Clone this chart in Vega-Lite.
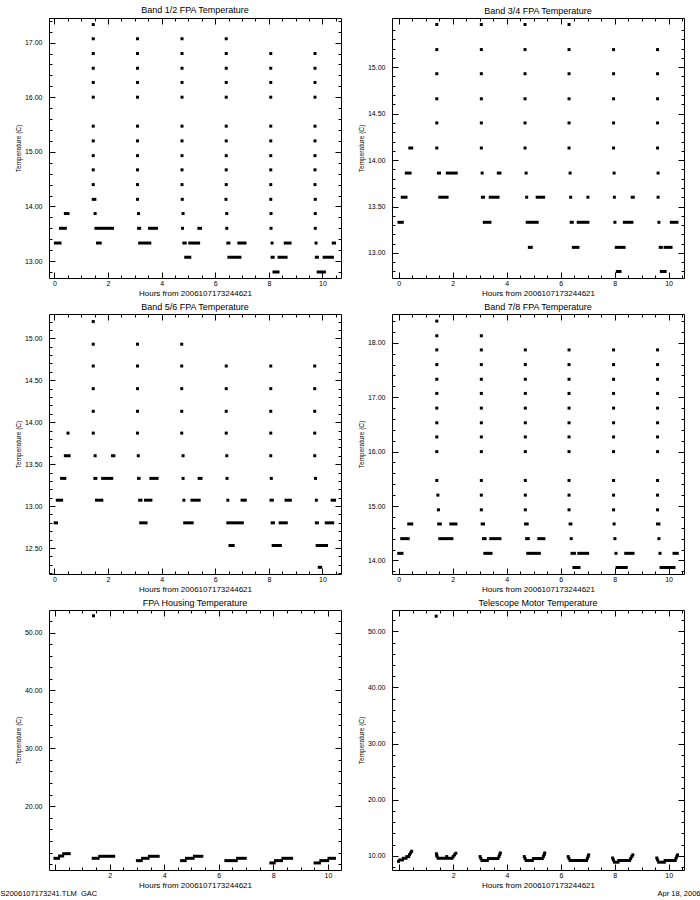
{
"$schema": "https://vega.github.io/schema/vega-lite/v6.json",
"padding": {"left": 0, "top": 5, "right": 0, "bottom": 0},
"background": "white",
"config": {
  "view": {"stroke": null},
  "font": "Liberation Sans",
  "axis": {"grid": false, "domainColor": "black", "domainWidth": 1, "tickColor": "black", "tickWidth": 1, "labelColor": "black", "titleColor": "black", "labelFont": "Liberation Sans", "titleFont": "Liberation Sans", "labelFontSize": 7, "titleFontWeight": "normal", "labelFlush": false, "labelOverlap": false, "labelBound": false},
  "axisBottom": {"labelPadding": 7, "titleFontSize": 8, "titlePadding": 0},
  "axisLeft": {"labelPadding": 13, "titleFontSize": 6.5, "titlePadding": 3},
  "title": {"font": "Liberation Sans", "fontSize": 9, "fontWeight": "normal", "color": "black", "offset": 2, "anchor": "middle", "frame": "group"}
},
"datasets": {
"b12": [
{"x":0.04,"x2":0.21,"y":13.33},{"x":1.61,"x2":1.71,"y":13.33},{"x":3.18,"x2":3.56,"y":13.33},{"x":4.83,"x2":4.88,"y":13.33},{"x":5.05,"x2":5.38,"y":13.33},{"x":6.47,"x2":6.51,"y":13.33},{"x":6.88,"x2":7.11,"y":13.33},{"x":8.61,"x2":8.79,"y":13.33},{"x":10.4,"x2":10.45,"y":13.33},
{"x":8.12,"y":13.33},{"x":9.76,"y":13.33},
{"x":4.9,"x2":5.05,"y":13.07},{"x":6.51,"x2":6.92,"y":13.07},{"x":8.12,"x2":8.16,"y":13.07},{"x":8.38,"x2":8.64,"y":13.07},{"x":9.77,"x2":9.81,"y":13.07},{"x":10.06,"x2":10.37,"y":13.07},
{"x":8.19,"x2":8.34,"y":12.8},{"x":9.84,"x2":10.07,"y":12.8},
{"x":0.23,"x2":0.41,"y":13.6},{"x":1.55,"x2":2.17,"y":13.6},{"x":3.14,"x2":3.18,"y":13.6},{"x":3.55,"x2":3.81,"y":13.6},{"x":5.39,"x2":5.45,"y":13.6},
{"x":4.78,"y":13.6},{"x":6.43,"y":13.6},{"x":8.08,"y":13.6},{"x":9.73,"y":13.6},
{"x":0.41,"x2":0.51,"y":13.87},
{"x":1.52,"y":13.87},{"x":3.14,"y":13.87},{"x":4.8,"y":13.87},{"x":6.43,"y":13.87},{"x":8.08,"y":13.87},{"x":9.73,"y":13.87},
{"x":1.45,"x2":1.51,"y":14.13},
{"x":3.1,"y":14.13},{"x":4.77,"y":14.13},{"x":6.4,"y":14.13},{"x":8.07,"y":14.13},{"x":9.73,"y":14.13},
{"x":1.45,"y":14.4},{"x":3.1,"y":14.4},{"x":4.76,"y":14.4},{"x":6.41,"y":14.4},{"x":8.07,"y":14.4},{"x":9.72,"y":14.4},
{"x":1.45,"y":14.67},{"x":3.1,"y":14.67},{"x":4.76,"y":14.67},{"x":6.41,"y":14.67},{"x":8.07,"y":14.67},{"x":9.72,"y":14.67},
{"x":1.45,"y":14.93},{"x":3.1,"y":14.93},{"x":4.76,"y":14.93},{"x":6.41,"y":14.93},{"x":8.07,"y":14.93},{"x":9.72,"y":14.93},
{"x":1.45,"y":15.2},{"x":3.1,"y":15.2},{"x":4.76,"y":15.2},{"x":6.41,"y":15.2},{"x":8.07,"y":15.2},{"x":9.72,"y":15.2},
{"x":1.45,"y":15.47},{"x":3.1,"y":15.47},{"x":4.76,"y":15.47},{"x":6.41,"y":15.47},{"x":8.07,"y":15.47},{"x":9.72,"y":15.47},
{"x":1.45,"y":16.0},{"x":3.1,"y":16.0},{"x":4.76,"y":16.0},{"x":6.41,"y":16.0},{"x":8.07,"y":16.0},{"x":9.72,"y":16.0},
{"x":1.45,"y":16.27},{"x":3.1,"y":16.27},{"x":4.76,"y":16.27},{"x":6.41,"y":16.27},{"x":8.07,"y":16.27},{"x":9.72,"y":16.27},
{"x":1.45,"y":16.53},{"x":3.1,"y":16.53},{"x":4.76,"y":16.53},{"x":6.41,"y":16.53},{"x":8.07,"y":16.53},{"x":9.72,"y":16.53},
{"x":1.45,"y":16.8},{"x":3.1,"y":16.8},{"x":4.76,"y":16.8},{"x":6.41,"y":16.8},{"x":8.07,"y":16.8},{"x":9.72,"y":16.8},
{"x":1.45,"y":17.07},{"x":3.1,"y":17.07},{"x":4.76,"y":17.07},{"x":6.41,"y":17.07},
{"x":1.45,"y":17.33}
],
"b34": [
{"x":0.28,"x2":0.42,"y":13.86},{"x":1.47,"x2":1.51,"y":13.86},{"x":1.8,"x2":2.13,"y":13.86},{"x":3.69,"x2":3.75,"y":13.86},
{"x":3.09,"y":13.86},{"x":4.72,"y":13.86},{"x":6.35,"y":13.86},{"x":7.98,"y":13.86},{"x":9.61,"y":13.86},
{"x":0.13,"x2":0.27,"y":13.6},{"x":1.52,"x2":1.79,"y":13.6},{"x":3.1,"x2":3.14,"y":13.6},{"x":3.39,"x2":3.68,"y":13.6},{"x":5.13,"x2":5.37,"y":13.6},{"x":8.65,"x2":8.69,"y":13.6},
{"x":4.74,"y":13.6},{"x":6.37,"y":13.6},{"x":7.01,"y":13.6},{"x":7.99,"y":13.6},{"x":9.61,"y":13.6},
{"x":0.01,"x2":0.13,"y":13.33},{"x":3.17,"x2":3.38,"y":13.33},{"x":4.76,"x2":5.13,"y":13.33},{"x":6.39,"x2":6.43,"y":13.33},{"x":6.65,"x2":7.01,"y":13.33},{"x":8.36,"x2":8.64,"y":13.33},{"x":10.1,"x2":10.31,"y":13.33},
{"x":8.01,"y":13.33},{"x":9.64,"y":13.33},
{"x":4.84,"x2":4.91,"y":13.06},{"x":6.47,"x2":6.64,"y":13.06},{"x":8.06,"x2":8.35,"y":13.06},{"x":9.69,"x2":9.73,"y":13.06},{"x":9.87,"x2":10.09,"y":13.06},
{"x":8.1,"x2":8.2,"y":12.8},{"x":9.73,"x2":9.87,"y":12.8},
{"x":0.41,"x2":0.48,"y":14.13},
{"x":1.41,"y":14.13},{"x":3.06,"y":14.13},{"x":4.68,"y":14.13},{"x":6.31,"y":14.13},{"x":7.96,"y":14.13},{"x":9.59,"y":14.13},
{"x":1.41,"y":14.4},{"x":3.06,"y":14.4},{"x":4.68,"y":14.4},{"x":6.31,"y":14.4},{"x":7.96,"y":14.4},{"x":9.59,"y":14.4},
{"x":1.41,"y":14.66},{"x":3.06,"y":14.66},{"x":4.68,"y":14.66},{"x":6.31,"y":14.66},{"x":7.96,"y":14.66},{"x":9.59,"y":14.66},
{"x":1.41,"y":14.93},{"x":3.06,"y":14.93},{"x":4.68,"y":14.93},{"x":6.31,"y":14.93},{"x":7.96,"y":14.93},{"x":9.59,"y":14.93},
{"x":1.41,"y":15.19},{"x":3.06,"y":15.19},{"x":4.68,"y":15.19},{"x":6.31,"y":15.19},{"x":7.96,"y":15.19},{"x":9.59,"y":15.19},
{"x":1.41,"y":15.46},{"x":3.06,"y":15.46},{"x":4.68,"y":15.46},{"x":6.31,"y":15.46}
],
"b56": [
{"x":0.51,"y":13.87},{"x":1.45,"y":13.87},{"x":3.1,"y":13.87},{"x":4.75,"y":13.87},{"x":6.41,"y":13.87},{"x":8.07,"y":13.87},{"x":9.71,"y":13.87},
{"x":0.41,"x2":0.55,"y":13.6},{"x":2.17,"x2":2.22,"y":13.6},
{"x":1.52,"y":13.6},{"x":3.13,"y":13.6},{"x":4.8,"y":13.6},{"x":6.43,"y":13.6},{"x":8.07,"y":13.6},{"x":9.71,"y":13.6},
{"x":0.27,"x2":0.39,"y":13.33},{"x":1.51,"x2":1.55,"y":13.33},{"x":1.8,"x2":2.14,"y":13.33},{"x":3.14,"x2":3.16,"y":13.33},{"x":3.6,"x2":3.83,"y":13.33},{"x":5.4,"x2":5.47,"y":13.33},
{"x":4.8,"y":13.33},{"x":6.44,"y":13.33},{"x":8.09,"y":13.33},{"x":9.74,"y":13.33},
{"x":0.11,"x2":0.27,"y":13.07},{"x":1.57,"x2":1.77,"y":13.07},{"x":3.18,"x2":3.23,"y":13.07},{"x":3.4,"x2":3.6,"y":13.07},{"x":5.13,"x2":5.4,"y":13.07},{"x":7.0,"x2":7.12,"y":13.07},{"x":8.08,"x2":8.13,"y":13.07},{"x":8.64,"x2":8.8,"y":13.07},{"x":10.36,"x2":10.45,"y":13.07},
{"x":4.83,"y":13.07},{"x":6.47,"y":13.07},{"x":9.77,"y":13.07},
{"x":0.03,"x2":0.08,"y":12.8},{"x":3.22,"x2":3.42,"y":12.8},{"x":4.86,"x2":5.14,"y":12.8},{"x":6.47,"x2":7.01,"y":12.8},{"x":8.12,"x2":8.17,"y":12.8},{"x":8.42,"x2":8.65,"y":12.8},{"x":9.77,"x2":9.81,"y":12.8},{"x":10.14,"x2":10.38,"y":12.8},
{"x":6.55,"x2":6.67,"y":12.53},{"x":8.16,"x2":8.43,"y":12.53},{"x":9.8,"x2":10.15,"y":12.53},
{"x":9.88,"x2":9.93,"y":12.27},
{"x":1.45,"y":14.13},{"x":3.1,"y":14.13},{"x":4.75,"y":14.13},{"x":6.41,"y":14.13},{"x":8.07,"y":14.13},{"x":9.71,"y":14.13},
{"x":1.45,"y":14.4},{"x":3.1,"y":14.4},{"x":4.75,"y":14.4},{"x":6.41,"y":14.4},{"x":8.07,"y":14.4},{"x":9.71,"y":14.4},
{"x":1.45,"y":14.67},{"x":3.1,"y":14.67},{"x":4.75,"y":14.67},{"x":6.41,"y":14.67},{"x":8.07,"y":14.67},{"x":9.71,"y":14.67},
{"x":1.45,"y":14.93},{"x":3.1,"y":14.93},{"x":4.75,"y":14.93},
{"x":1.45,"y":15.2}
],
"b78": [
{"x":1.41,"y":18.4},
{"x":1.41,"y":18.13},{"x":3.06,"y":18.13},
{"x":1.41,"y":17.87},{"x":3.06,"y":17.87},{"x":4.69,"y":17.87},{"x":6.31,"y":17.87},{"x":7.96,"y":17.87},{"x":9.59,"y":17.87},
{"x":1.41,"y":17.6},{"x":3.06,"y":17.6},{"x":4.69,"y":17.6},{"x":6.31,"y":17.6},{"x":7.96,"y":17.6},{"x":9.59,"y":17.6},
{"x":1.41,"y":17.33},{"x":3.06,"y":17.33},{"x":4.69,"y":17.33},{"x":6.31,"y":17.33},{"x":7.96,"y":17.33},{"x":9.59,"y":17.33},
{"x":1.41,"y":17.07},{"x":3.06,"y":17.07},{"x":4.69,"y":17.07},{"x":6.31,"y":17.07},{"x":7.96,"y":17.07},{"x":9.59,"y":17.07},
{"x":1.41,"y":16.8},{"x":3.06,"y":16.8},{"x":4.69,"y":16.8},{"x":6.31,"y":16.8},{"x":7.96,"y":16.8},{"x":9.59,"y":16.8},
{"x":1.41,"y":16.53},{"x":3.06,"y":16.53},{"x":4.69,"y":16.53},{"x":6.31,"y":16.53},{"x":7.96,"y":16.53},{"x":9.59,"y":16.53},
{"x":1.41,"y":16.27},{"x":3.06,"y":16.27},{"x":4.69,"y":16.27},{"x":6.31,"y":16.27},{"x":7.96,"y":16.27},{"x":9.59,"y":16.27},
{"x":1.41,"y":16.0},{"x":3.06,"y":16.0},{"x":4.69,"y":16.0},{"x":6.31,"y":16.0},{"x":7.96,"y":16.0},{"x":9.59,"y":16.0},
{"x":1.41,"y":15.47},{"x":3.06,"y":15.47},{"x":4.69,"y":15.47},{"x":6.31,"y":15.47},{"x":7.96,"y":15.47},{"x":9.59,"y":15.47},
{"x":1.45,"y":15.2},{"x":3.06,"y":15.2},{"x":4.69,"y":15.2},{"x":6.31,"y":15.2},{"x":7.96,"y":15.2},{"x":9.59,"y":15.2},
{"x":1.47,"y":14.93},{"x":3.06,"y":14.93},{"x":4.69,"y":14.93},{"x":6.31,"y":14.93},{"x":7.96,"y":14.93},{"x":9.59,"y":14.93},
{"x":0.37,"x2":0.48,"y":14.67},{"x":1.48,"x2":1.54,"y":14.67},{"x":1.93,"x2":2.12,"y":14.67},{"x":3.09,"x2":3.14,"y":14.67},{"x":4.7,"x2":4.76,"y":14.67},{"x":6.35,"x2":6.38,"y":14.67},{"x":9.59,"x2":9.64,"y":14.67},
{"x":7.98,"y":14.67},
{"x":0.11,"x2":0.35,"y":14.4},{"x":1.52,"x2":1.97,"y":14.4},{"x":3.14,"x2":3.2,"y":14.4},{"x":3.41,"x2":3.75,"y":14.4},{"x":4.74,"x2":4.8,"y":14.4},{"x":5.19,"x2":5.38,"y":14.4},
{"x":6.39,"y":14.4},{"x":8.01,"y":14.4},{"x":9.64,"y":14.4},
{"x":0.0,"x2":0.12,"y":14.13},{"x":3.19,"x2":3.42,"y":14.13},{"x":4.78,"x2":5.21,"y":14.13},{"x":6.42,"x2":6.51,"y":14.13},{"x":6.67,"x2":7.0,"y":14.13},{"x":8.41,"x2":8.68,"y":14.13},{"x":10.2,"x2":10.32,"y":14.13},
{"x":8.05,"y":14.13},{"x":9.68,"y":14.13},
{"x":6.49,"x2":6.68,"y":13.87},{"x":8.09,"x2":8.43,"y":13.87},{"x":9.72,"x2":10.2,"y":13.87}
],
"hous": [
{"x":0.0,"x2":0.13,"y":11.0},{"x":0.17,"x2":0.28,"y":11.4},{"x":0.32,"x2":0.52,"y":11.8},
{"x":1.4,"x2":1.58,"y":11.0},{"x":1.64,"x2":2.15,"y":11.35},
{"x":3.02,"x2":3.16,"y":10.6},{"x":3.21,"x2":3.41,"y":11.0},{"x":3.46,"x2":3.78,"y":11.35},
{"x":4.64,"x2":4.77,"y":10.6},{"x":4.82,"x2":5.06,"y":11.0},{"x":5.11,"x2":5.38,"y":11.35},
{"x":6.26,"x2":6.64,"y":10.6},{"x":6.69,"x2":6.97,"y":11.0},
{"x":7.91,"x2":8.03,"y":10.2},{"x":8.08,"x2":8.3,"y":10.6},{"x":8.35,"x2":8.67,"y":11.0},
{"x":9.53,"x2":9.69,"y":10.2},{"x":9.74,"x2":9.99,"y":10.6},{"x":10.04,"x2":10.24,"y":11.0},
{"x":1.41,"y":52.9}
],
"tele": [
{"x":-0.03,"y":9.0},{"x":0.02,"x2":0.12,"y":9.25},{"x":0.15,"x2":0.25,"y":9.55},{"x":0.28,"x2":0.35,"y":9.85},{"x":0.38,"y":10.2},{"x":0.42,"y":10.5},{"x":0.46,"y":10.8},
{"x":1.38,"y":10.35},{"x":1.39,"y":10.05},{"x":1.41,"y":9.8},{"x":1.45,"x2":1.96,"y":9.55},{"x":1.76,"y":9.85},{"x":2.0,"y":9.85},{"x":2.05,"y":10.15},{"x":2.1,"y":10.45},
{"x":3.0,"y":9.85},{"x":3.03,"y":9.5},{"x":3.07,"x2":3.27,"y":9.15},{"x":3.31,"x2":3.66,"y":9.5},{"x":3.7,"y":9.85},{"x":3.73,"y":10.2},{"x":3.75,"y":10.5},
{"x":4.64,"y":9.85},{"x":4.67,"y":9.5},{"x":4.71,"x2":4.94,"y":9.15},{"x":4.98,"x2":5.31,"y":9.5},{"x":5.35,"y":9.85},{"x":5.38,"y":10.2},{"x":5.4,"y":10.5},
{"x":6.27,"y":9.85},{"x":6.3,"y":9.5},{"x":6.34,"x2":6.95,"y":9.15},{"x":6.98,"y":9.5},{"x":7.01,"y":9.85},{"x":7.03,"y":10.15},
{"x":7.92,"y":9.6},{"x":7.95,"y":9.25},{"x":7.99,"x2":8.12,"y":8.85},{"x":8.15,"x2":8.55,"y":9.15},{"x":8.59,"y":9.5},{"x":8.63,"y":9.85},{"x":8.67,"y":10.15},
{"x":9.56,"y":9.6},{"x":9.59,"y":9.25},{"x":9.63,"x2":9.84,"y":8.85},{"x":9.87,"x2":10.24,"y":9.15},{"x":10.27,"y":9.5},{"x":10.3,"y":9.85},{"x":10.33,"y":10.15},
{"x":1.37,"y":52.7}
]
},
"concat": [
{
 "width": 292, "height": 260, "title": "Band 1/2 FPA Temperature", "data": {"name": "b12"},
 "resolve": {"axis": {"x": "independent", "y": "independent"}},
 "layer": [
  {"transform": [{"filter": "isValid(datum.x2)"}],
   "mark": {"type": "rule", "strokeWidth": 3, "strokeCap": "square", "color": "black"},
   "encoding": {
    "x": {"field": "x", "type": "quantitative", "scale": {"domain": [-0.2, 10.69], "nice": false, "zero": false},
      "axis": {"orient": "bottom", "values": [0,0.5,1,1.5,2,2.5,3,3.5,4,4.5,5,5.5,6,6.5,7,7.5,8,8.5,9,9.5,10,10.5], "labelExpr": "abs(datum.value/2-round(datum.value/2))<1e-6 ? format(datum.value,'d') : ''", "tickSize": {"condition": {"test": "abs(datum.value/2-round(datum.value/2))<1e-6", "value": -6}, "value": -3}, "title": "Hours from 2006107173244621"}},
    "x2": {"field": "x2"},
    "y": {"field": "y", "type": "quantitative", "scale": {"domain": [12.69, 17.45], "nice": false, "zero": false},
      "axis": {"orient": "left", "values": [12.8,13,13.2,13.4,13.6,13.8,14,14.2,14.4,14.6,14.8,15,15.2,15.4,15.6,15.8,16,16.2,16.4,16.6,16.8,17,17.2,17.4], "labelExpr": "abs(datum.value-round(datum.value))<1e-6 ? format(datum.value,'.2f') : ''", "tickSize": {"condition": {"test": "abs(datum.value-round(datum.value))<1e-6", "value": -6}, "value": -3}, "title": "Temperature (C)"}}
   }},
  {"transform": [{"filter": "!isValid(datum.x2)"}],
   "mark": {"type": "square", "size": 9, "color": "black", "opacity": 1},
   "encoding": {
    "x": {"field": "x", "type": "quantitative", "scale": {"domain": [-0.2, 10.69], "nice": false, "zero": false},
      "axis": {"orient": "top", "values": [0,0.5,1,1.5,2,2.5,3,3.5,4,4.5,5,5.5,6,6.5,7,7.5,8,8.5,9,9.5,10,10.5], "labels": false, "tickSize": {"condition": {"test": "abs(datum.value/2-round(datum.value/2))<1e-6", "value": -6}, "value": -3}, "title": null}},
    "y": {"field": "y", "type": "quantitative", "scale": {"domain": [12.69, 17.45], "nice": false, "zero": false},
      "axis": {"orient": "right", "values": [12.8,13,13.2,13.4,13.6,13.8,14,14.2,14.4,14.6,14.8,15,15.2,15.4,15.6,15.8,16,16.2,16.4,16.6,16.8,17,17.2,17.4], "labels": false, "tickSize": {"condition": {"test": "abs(datum.value-round(datum.value))<1e-6", "value": -6}, "value": -3}, "title": null}}
   }}
 ]
},
{
 "width": 292, "height": 260, "title": "Band 3/4 FPA Temperature", "data": {"name": "b34"},
 "resolve": {"axis": {"x": "independent", "y": "independent"}},
 "layer": [
  {"transform": [{"filter": "isValid(datum.x2)"}],
   "mark": {"type": "rule", "strokeWidth": 3, "strokeCap": "square", "color": "black"},
   "encoding": {
    "x": {"field": "x", "type": "quantitative", "scale": {"domain": [-0.25, 10.57], "nice": false, "zero": false},
      "axis": {"orient": "bottom", "values": [0,0.5,1,1.5,2,2.5,3,3.5,4,4.5,5,5.5,6,6.5,7,7.5,8,8.5,9,9.5,10,10.5], "labelExpr": "abs(datum.value/2-round(datum.value/2))<1e-6 ? format(datum.value,'d') : ''", "tickSize": {"condition": {"test": "abs(datum.value/2-round(datum.value/2))<1e-6", "value": -6}, "value": -3}, "title": "Hours from 2006107173244621"}},
    "x2": {"field": "x2"},
    "y": {"field": "y", "type": "quantitative", "scale": {"domain": [12.73, 15.53], "nice": false, "zero": false},
      "axis": {"orient": "left", "values": [12.8,12.9,13,13.1,13.2,13.3,13.4,13.5,13.6,13.7,13.8,13.9,14,14.1,14.2,14.3,14.4,14.5,14.6,14.7,14.8,14.9,15,15.1,15.2,15.3,15.4], "labelExpr": "abs(datum.value*2-round(datum.value*2))<1e-6 ? format(datum.value,'.2f') : ''", "tickSize": {"condition": {"test": "abs(datum.value*2-round(datum.value*2))<1e-6", "value": -6}, "value": -3}, "title": "Temperature (C)"}}
   }},
  {"transform": [{"filter": "!isValid(datum.x2)"}],
   "mark": {"type": "square", "size": 9, "color": "black", "opacity": 1},
   "encoding": {
    "x": {"field": "x", "type": "quantitative", "scale": {"domain": [-0.25, 10.57], "nice": false, "zero": false},
      "axis": {"orient": "top", "values": [0,0.5,1,1.5,2,2.5,3,3.5,4,4.5,5,5.5,6,6.5,7,7.5,8,8.5,9,9.5,10,10.5], "labels": false, "tickSize": {"condition": {"test": "abs(datum.value/2-round(datum.value/2))<1e-6", "value": -6}, "value": -3}, "title": null}},
    "y": {"field": "y", "type": "quantitative", "scale": {"domain": [12.73, 15.53], "nice": false, "zero": false},
      "axis": {"orient": "right", "values": [12.8,12.9,13,13.1,13.2,13.3,13.4,13.5,13.6,13.7,13.8,13.9,14,14.1,14.2,14.3,14.4,14.5,14.6,14.7,14.8,14.9,15,15.1,15.2,15.3,15.4], "labels": false, "tickSize": {"condition": {"test": "abs(datum.value*2-round(datum.value*2))<1e-6", "value": -6}, "value": -3}, "title": null}}
   }}
 ]
},
{
 "width": 292, "height": 260, "title": "Band 5/6 FPA Temperature", "data": {"name": "b56"},
 "resolve": {"axis": {"x": "independent", "y": "independent"}},
 "layer": [
  {"transform": [{"filter": "isValid(datum.x2)"}],
   "mark": {"type": "rule", "strokeWidth": 3, "strokeCap": "square", "color": "black"},
   "encoding": {
    "x": {"field": "x", "type": "quantitative", "scale": {"domain": [-0.2, 10.69], "nice": false, "zero": false},
      "axis": {"orient": "bottom", "values": [0,0.5,1,1.5,2,2.5,3,3.5,4,4.5,5,5.5,6,6.5,7,7.5,8,8.5,9,9.5,10,10.5], "labelExpr": "abs(datum.value/2-round(datum.value/2))<1e-6 ? format(datum.value,'d') : ''", "tickSize": {"condition": {"test": "abs(datum.value/2-round(datum.value/2))<1e-6", "value": -6}, "value": -3}, "title": "Hours from 2006107173244621"}},
    "x2": {"field": "x2"},
    "y": {"field": "y", "type": "quantitative", "scale": {"domain": [12.19, 15.29], "nice": false, "zero": false},
      "axis": {"orient": "left", "values": [12.2,12.3,12.4,12.5,12.6,12.7,12.8,12.9,13,13.1,13.2,13.3,13.4,13.5,13.6,13.7,13.8,13.9,14,14.1,14.2,14.3,14.4,14.5,14.6,14.7,14.8,14.9,15,15.1,15.2], "labelExpr": "abs(datum.value*2-round(datum.value*2))<1e-6 ? format(datum.value,'.2f') : ''", "tickSize": {"condition": {"test": "abs(datum.value*2-round(datum.value*2))<1e-6", "value": -6}, "value": -3}, "title": "Temperature (C)"}}
   }},
  {"transform": [{"filter": "!isValid(datum.x2)"}],
   "mark": {"type": "square", "size": 9, "color": "black", "opacity": 1},
   "encoding": {
    "x": {"field": "x", "type": "quantitative", "scale": {"domain": [-0.2, 10.69], "nice": false, "zero": false},
      "axis": {"orient": "top", "values": [0,0.5,1,1.5,2,2.5,3,3.5,4,4.5,5,5.5,6,6.5,7,7.5,8,8.5,9,9.5,10,10.5], "labels": false, "tickSize": {"condition": {"test": "abs(datum.value/2-round(datum.value/2))<1e-6", "value": -6}, "value": -3}, "title": null}},
    "y": {"field": "y", "type": "quantitative", "scale": {"domain": [12.19, 15.29], "nice": false, "zero": false},
      "axis": {"orient": "right", "values": [12.2,12.3,12.4,12.5,12.6,12.7,12.8,12.9,13,13.1,13.2,13.3,13.4,13.5,13.6,13.7,13.8,13.9,14,14.1,14.2,14.3,14.4,14.5,14.6,14.7,14.8,14.9,15,15.1,15.2], "labels": false, "tickSize": {"condition": {"test": "abs(datum.value*2-round(datum.value*2))<1e-6", "value": -6}, "value": -3}, "title": null}}
   }}
 ]
},
{
 "width": 292, "height": 260, "title": "Band 7/8 FPA Temperature", "data": {"name": "b78"},
 "resolve": {"axis": {"x": "independent", "y": "independent"}},
 "layer": [
  {"transform": [{"filter": "isValid(datum.x2)"}],
   "mark": {"type": "rule", "strokeWidth": 3, "strokeCap": "square", "color": "black"},
   "encoding": {
    "x": {"field": "x", "type": "quantitative", "scale": {"domain": [-0.25, 10.57], "nice": false, "zero": false},
      "axis": {"orient": "bottom", "values": [0,0.5,1,1.5,2,2.5,3,3.5,4,4.5,5,5.5,6,6.5,7,7.5,8,8.5,9,9.5,10,10.5], "labelExpr": "abs(datum.value/2-round(datum.value/2))<1e-6 ? format(datum.value,'d') : ''", "tickSize": {"condition": {"test": "abs(datum.value/2-round(datum.value/2))<1e-6", "value": -6}, "value": -3}, "title": "Hours from 2006107173244621"}},
    "x2": {"field": "x2"},
    "y": {"field": "y", "type": "quantitative", "scale": {"domain": [13.75, 18.53], "nice": false, "zero": false},
      "axis": {"orient": "left", "values": [13.8,14,14.2,14.4,14.6,14.8,15,15.2,15.4,15.6,15.8,16,16.2,16.4,16.6,16.8,17,17.2,17.4,17.6,17.8,18,18.2,18.4], "labelExpr": "abs(datum.value-round(datum.value))<1e-6 ? format(datum.value,'.2f') : ''", "tickSize": {"condition": {"test": "abs(datum.value-round(datum.value))<1e-6", "value": -6}, "value": -3}, "title": "Temperature (C)"}}
   }},
  {"transform": [{"filter": "!isValid(datum.x2)"}],
   "mark": {"type": "square", "size": 9, "color": "black", "opacity": 1},
   "encoding": {
    "x": {"field": "x", "type": "quantitative", "scale": {"domain": [-0.25, 10.57], "nice": false, "zero": false},
      "axis": {"orient": "top", "values": [0,0.5,1,1.5,2,2.5,3,3.5,4,4.5,5,5.5,6,6.5,7,7.5,8,8.5,9,9.5,10,10.5], "labels": false, "tickSize": {"condition": {"test": "abs(datum.value/2-round(datum.value/2))<1e-6", "value": -6}, "value": -3}, "title": null}},
    "y": {"field": "y", "type": "quantitative", "scale": {"domain": [13.75, 18.53], "nice": false, "zero": false},
      "axis": {"orient": "right", "values": [13.8,14,14.2,14.4,14.6,14.8,15,15.2,15.4,15.6,15.8,16,16.2,16.4,16.6,16.8,17,17.2,17.4,17.6,17.8,18,18.2,18.4], "labels": false, "tickSize": {"condition": {"test": "abs(datum.value-round(datum.value))<1e-6", "value": -6}, "value": -3}, "title": null}}
   }}
 ]
},
{
 "width": 292, "height": 260, "title": "FPA Housing Temperature", "data": {"name": "hous"},
 "resolve": {"axis": {"x": "independent", "y": "independent"}},
 "layer": [
  {"transform": [{"filter": "isValid(datum.x2)"}],
   "mark": {"type": "rule", "strokeWidth": 3, "strokeCap": "square", "color": "black"},
   "encoding": {
    "x": {"field": "x", "type": "quantitative", "scale": {"domain": [-0.22, 10.48], "nice": false, "zero": false},
      "axis": {"orient": "bottom", "values": [0,0.5,1,1.5,2,2.5,3,3.5,4,4.5,5,5.5,6,6.5,7,7.5,8,8.5,9,9.5,10], "labelExpr": "abs(datum.value/2-round(datum.value/2))<1e-6 && datum.value>0.1 ? format(datum.value,'d') : ''", "tickSize": {"condition": {"test": "abs(datum.value/2-round(datum.value/2))<1e-6", "value": -6}, "value": -3}, "title": "Hours from 2006107173244621"}},
    "x2": {"field": "x2"},
    "y": {"field": "y", "type": "quantitative", "scale": {"domain": [8.98, 53.9], "nice": false, "zero": false},
      "axis": {"orient": "left", "values": [10,12,14,16,18,20,22,24,26,28,30,32,34,36,38,40,42,44,46,48,50,52], "labelExpr": "abs(datum.value/10-round(datum.value/10))<1e-6 && datum.value>15 ? format(datum.value,'.2f') : ''", "tickSize": {"condition": {"test": "abs(datum.value/10-round(datum.value/10))<1e-6 && datum.value>15", "value": -6}, "value": -3}, "title": "Temperature (C)"}}
   }},
  {"transform": [{"filter": "!isValid(datum.x2)"}],
   "mark": {"type": "square", "size": 9, "color": "black", "opacity": 1},
   "encoding": {
    "x": {"field": "x", "type": "quantitative", "scale": {"domain": [-0.22, 10.48], "nice": false, "zero": false},
      "axis": {"orient": "top", "values": [0,0.5,1,1.5,2,2.5,3,3.5,4,4.5,5,5.5,6,6.5,7,7.5,8,8.5,9,9.5,10], "labels": false, "tickSize": {"condition": {"test": "abs(datum.value/2-round(datum.value/2))<1e-6", "value": -6}, "value": -3}, "title": null}},
    "y": {"field": "y", "type": "quantitative", "scale": {"domain": [8.98, 53.9], "nice": false, "zero": false},
      "axis": {"orient": "right", "values": [10,12,14,16,18,20,22,24,26,28,30,32,34,36,38,40,42,44,46,48,50,52], "labels": false, "tickSize": {"condition": {"test": "abs(datum.value/10-round(datum.value/10))<1e-6 && datum.value>15", "value": -6}, "value": -3}, "title": null}}
   }},
  {"transform": [{"filter": "false"}],
   "mark": {"type": "point", "opacity": 0},
   "encoding": {
    "x": {"field": "x", "type": "quantitative", "scale": {"domain": [-0.22, 10.48], "nice": false, "zero": false},
      "axis": {"orient": "bottom", "domain": false, "ticks": false, "labels": false, "title": "S2006107173241.TLM_GAC", "titleX": -49, "titleY": 19, "titleAlign": "left", "titleBaseline": "top", "titleFontSize": 7.5}}
   }}
 ]
},
{
 "width": 292, "height": 260, "title": "Telescope Motor Temperature", "data": {"name": "tele"},
 "resolve": {"axis": {"x": "independent", "y": "independent"}},
 "layer": [
  {"transform": [{"filter": "isValid(datum.x2)"}],
   "mark": {"type": "rule", "strokeWidth": 3, "strokeCap": "square", "color": "black"},
   "encoding": {
    "x": {"field": "x", "type": "quantitative", "scale": {"domain": [-0.27, 10.57], "nice": false, "zero": false},
      "axis": {"orient": "bottom", "values": [0,0.5,1,1.5,2,2.5,3,3.5,4,4.5,5,5.5,6,6.5,7,7.5,8,8.5,9,9.5,10,10.5], "labelExpr": "abs(datum.value/2-round(datum.value/2))<1e-6 && datum.value>0.1 ? format(datum.value,'d') : ''", "tickSize": {"condition": {"test": "abs(datum.value/2-round(datum.value/2))<1e-6", "value": -6}, "value": -3}, "title": "Hours from 2006107173244621"}},
    "x2": {"field": "x2"},
    "y": {"field": "y", "type": "quantitative", "scale": {"domain": [7.46, 53.8], "nice": false, "zero": false},
      "axis": {"orient": "left", "values": [8,10,12,14,16,18,20,22,24,26,28,30,32,34,36,38,40,42,44,46,48,50,52], "labelExpr": "abs(datum.value/10-round(datum.value/10))<1e-6 ? format(datum.value,'.2f') : ''", "tickSize": {"condition": {"test": "abs(datum.value/10-round(datum.value/10))<1e-6", "value": -6}, "value": -3}, "title": "Temperature (C)"}}
   }},
  {"transform": [{"filter": "!isValid(datum.x2)"}],
   "mark": {"type": "square", "size": 9, "color": "black", "opacity": 1},
   "encoding": {
    "x": {"field": "x", "type": "quantitative", "scale": {"domain": [-0.27, 10.57], "nice": false, "zero": false},
      "axis": {"orient": "top", "values": [0,0.5,1,1.5,2,2.5,3,3.5,4,4.5,5,5.5,6,6.5,7,7.5,8,8.5,9,9.5,10,10.5], "labels": false, "tickSize": {"condition": {"test": "abs(datum.value/2-round(datum.value/2))<1e-6", "value": -6}, "value": -3}, "title": null}},
    "y": {"field": "y", "type": "quantitative", "scale": {"domain": [7.46, 53.8], "nice": false, "zero": false},
      "axis": {"orient": "right", "values": [8,10,12,14,16,18,20,22,24,26,28,30,32,34,36,38,40,42,44,46,48,50,52], "labels": false, "tickSize": {"condition": {"test": "abs(datum.value/10-round(datum.value/10))<1e-6", "value": -6}, "value": -3}, "title": null}}
   }},
  {"transform": [{"filter": "false"}],
   "mark": {"type": "point", "opacity": 0},
   "encoding": {
    "x": {"field": "x", "type": "quantitative", "scale": {"domain": [-0.27, 10.57], "nice": false, "zero": false},
      "axis": {"orient": "bottom", "domain": false, "ticks": false, "labels": false, "title": "Apr 18, 2006", "titleX": 308, "titleY": 19, "titleAlign": "right", "titleBaseline": "top", "titleFontSize": 7.5}}
   }}
 ]
}
],
"columns": 2,
"spacing": {"row": 36, "column": 51},
"bounds": "flush"
}
